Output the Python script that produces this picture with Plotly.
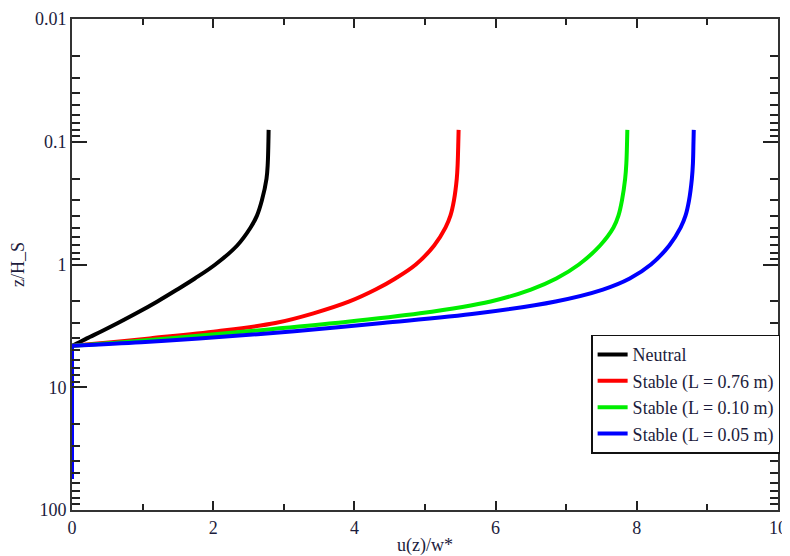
import plotly.graph_objects as go

# height levels z/H_S (shared by all profiles)
z_levels = [0.08, 0.1, 0.15, 0.2, 0.3, 0.4, 0.5, 0.7, 1.0, 1.3, 1.6, 2.0, 2.5, 3.0, 3.5, 4.0, 4.3, 4.6,
            10.0, 20.0, 56.0]

# u(z)/w* for each profile
u_neutral = [2.785, 2.782, 2.773, 2.755, 2.69, 2.62, 2.53, 2.34, 2.03, 1.74, 1.49, 1.21, 0.91, 0.65, 0.42,
             0.21, 0.105, 0.0, 0.0, 0.0, 0.0]
u_stable_076 = [5.476, 5.472, 5.463, 5.45, 5.41, 5.36, 5.29, 5.13, 4.87, 4.58, 4.30, 3.93, 3.42, 2.88, 2.06,
                1.10, 0.56, 0.0, 0.0, 0.0, 0.0]
u_stable_010 = [7.866, 7.862, 7.852, 7.835, 7.79, 7.74, 7.67, 7.48, 7.18, 6.86, 6.50, 5.93, 4.93, 3.73, 2.49,
                1.36, 0.72, 0.0, 0.0, 0.0, 0.0]
u_stable_005 = [8.807, 8.803, 8.795, 8.78, 8.74, 8.69, 8.62, 8.46, 8.20, 7.90, 7.52, 6.85, 5.75, 4.40, 3.15,
                1.80, 0.98, 0.0, 0.0, 0.0, 0.0]

series_names = ["Neutral", "Stable (L = 0.76 m)", "Stable (L = 0.10 m)", "Stable (L = 0.05 m)"]
series_values = [u_neutral, u_stable_076, u_stable_010, u_stable_005]
series_colors = ["#000000", "#ff0000", "#00ee00", "#0000ff"]

y_tickvals = [0.01, 0.1, 1, 10, 100]
y_ticktext = ["0.01", "0.1", "1", "10", "100"]
y_minor = [m * 10 ** e for e in range(-2, 2) for m in range(2, 10)]

FONT = "Liberation Serif"
TXT = "#1c1c3c"

# index where the profile reaches u = 0 (start of the vertical tail)
j0 = z_levels.index(4.6)

fig = go.Figure()
for name, vals, col in zip(series_names, series_values, series_colors):
    # smooth curved part
    fig.add_trace(go.Scatter(x=vals[:j0 + 1], y=z_levels[:j0 + 1], mode="lines", name=name,
                             legendgroup=name,
                             line=dict(color=col, width=4, shape="spline", smoothing=1.0)))
    # straight tail at u = 0
    fig.add_trace(go.Scatter(x=vals[j0:], y=z_levels[j0:], mode="lines", name=name,
                             legendgroup=name, showlegend=False,
                             line=dict(color=col, width=4)))

# page body has an 8px margin, so the figure is 8px smaller than the window
fig.update_layout(
    width=782, height=548,
    margin=dict(l=64, r=9.5, t=11, b=46),
    paper_bgcolor="white", plot_bgcolor="white",
    font=dict(family=FONT, size=18, color=TXT),
    showlegend=True,
    legend=dict(x=1.003, xanchor="right", y=0.357, yanchor="top",
                bgcolor="white", bordercolor="#111111", borderwidth=1.5,
                font=dict(family=FONT, size=18, color=TXT),
                tracegroupgap=0, itemwidth=30),
)

fig.update_xaxes(
    range=[0, 10], dtick=2, tick0=0, automargin=False,
    showgrid=False, zeroline=False,
    showline=True, linecolor="#333333", linewidth=2, mirror="ticks",
    ticks="inside", ticklen=9, tickwidth=2, tickcolor="#222222",
    minor=dict(ticks="inside", dtick=1, ticklen=6, tickwidth=2, tickcolor="#222222", showgrid=False),
    title=dict(text="u(z)/w*", font=dict(family=FONT, size=18, color=TXT), standoff=3),
    tickfont=dict(family=FONT, size=18, color=TXT),
)

fig.update_yaxes(
    type="log", range=[2, -2], automargin=False,
    tickmode="array", tickvals=y_tickvals, ticktext=y_ticktext,
    showgrid=False, zeroline=False,
    showline=True, linecolor="#333333", linewidth=2, mirror="ticks",
    ticks="inside", ticklen=15, tickwidth=2, tickcolor="#222222",
    minor=dict(ticks="inside", tickmode="array", tickvals=y_minor, ticklen=8, tickwidth=2,
               tickcolor="#222222", showgrid=False),
    title=dict(text="z/H_S", font=dict(family=FONT, size=18, color=TXT)),
    tickfont=dict(family=FONT, size=18, color=TXT),
)

fig.write_html("out.html")
